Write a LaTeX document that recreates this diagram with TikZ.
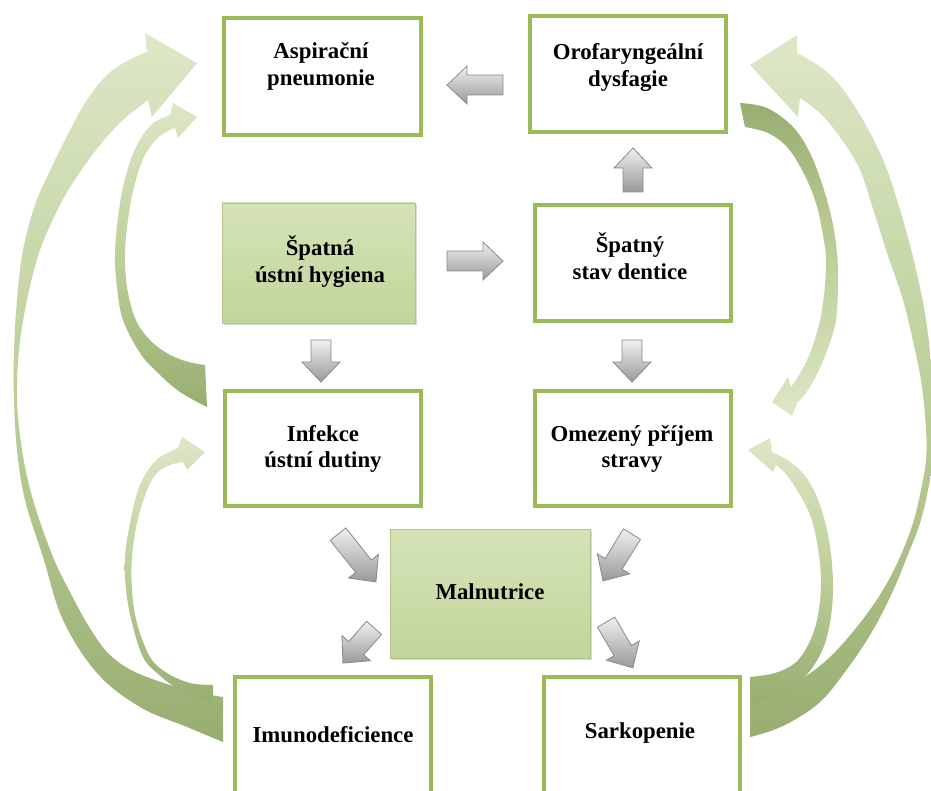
\documentclass[tikz,border=0pt]{standalone}
\usepackage{fontspec}
\setmainfont{Liberation Serif}
\usetikzlibrary{shadows}
\definecolor{boxgreen}{HTML}{9BBB59}
\definecolor{fillTop}{HTML}{D5E3B8}
\definecolor{fillBot}{HTML}{C2D59A}
\definecolor{gLight}{HTML}{DCE7C7}
\definecolor{gMid}{HTML}{BDD09A}
\definecolor{gDark}{HTML}{98AE71}
\definecolor{arrEdge}{HTML}{8A8A8A}
\newcommand\GrArr[4]{%
  \begin{scope}[shift={(#1,#2)},rotate=#3]
    \path[grayarr] (-#4/2,-10) -- (#4/2-20,-10) -- (#4/2-20,-19) -- (#4/2,0)
      -- (#4/2-20,19) -- (#4/2-20,10) -- (-#4/2,10) -- cycle;
  \end{scope}}
\begin{document}
\begin{tikzpicture}[x=1pt,y=-1pt,
  box/.style={draw=boxgreen, line width=3.5pt, fill=white, rectangle, inner sep=0pt},
  fbox/.style={rectangle, inner sep=0pt, top color=fillTop, bottom color=fillBot,
    draw=fillBot!92!black, line width=0.4pt,
    drop shadow={shadow xshift=2pt, shadow yshift=-2pt, opacity=0.3}},
  txt/.style={font=\bfseries\fontsize{22.8}{26.5}\selectfont, align=center, inner sep=0pt},
  grayarr/.style={draw=arrEdge, line width=0.8pt, top color=white!94!black,
    bottom color=black!40, line join=miter},
  garr/.style={top color=gLight, bottom color=gDark, middle color=gMid},
  garrinv/.style={top color=gDark, bottom color=gLight, middle color=gMid}
]
\useasboundingbox (0,0) rectangle (931,791);
\clip (0,0) rectangle (931,791);

% ---------- green curved arrows, left ----------
% A: Imunodeficience -> Aspiracni pneumonie (outer)
\shade[garr] plot[smooth, tension=0.6] coordinates {(223,697) (200,693) (170,685) (133,671)
  (108,653) (88,625) (70,592) (53,557) (33,500) (22,450) (17,400) (19,350) (27,300)
  (40,250) (60,205) (78,175) (100,145) (123,120) (148,100)}
  -- (152,117) -- (197,63) -- (145,33) -- (147,52)
  -- plot[smooth, tension=0.6] coordinates {(147,52) (125,62) (105,77) (85,103) (65,140)
  (48,175) (35,205) (23,250) (17,300) (14,350) (14,400) (17,450) (25,500) (43,557)
  (63,620) (97,673) (140,707) (187,727) (223,742)} -- cycle;
% B: Infekce -> Aspiracni pneumonie (inner)
\shade[garr] plot[smooth, tension=0.6] coordinates {(205,365) (185,361) (165,352) (148,338)
  (135,318) (127,287) (125,253) (128,220) (134,187) (145,155) (160,136) (175,128)}
  -- (178,138) -- (197,117) -- (173,103) -- (170,115)
  -- plot[smooth, tension=0.6] coordinates {(170,115) (152,124) (137,145) (126,175)
  (119,210) (115,253) (117,287) (123,320) (140,353) (157,372) (180,392) (207,407)} -- cycle;
% C: Imunodeficience -> Infekce
\shade[garr] plot[smooth, tension=0.6] coordinates {(213,685) (190,683) (167,673) (150,657)
  (137,623) (132,590) (132,557) (137,523) (147,490) (157,473) (170,465) (183,462)}
  -- (187,470) -- (205,452) -- (182,437) -- (178,448)
  -- plot[smooth, tension=0.6] coordinates {(178,448) (160,457) (148,470) (138,490)
  (130,523) (125,557) (126,590) (132,623) (143,657) (157,673) (180,690) (213,702)} -- cycle;

% ---------- green curved arrows, right ----------
% D: Sarkopenie -> Orofaryngealni dysfagie (outer)
\shade[garr] plot[smooth, tension=0.6] coordinates {(750,737) (783,726) (820,702) (850,665)
  (873,630) (892,593) (907,557) (920,523) (928,490) (933,455) (933,390) (926,320)
  (912,253) (893,187) (880,153) (863,120) (842,88) (822,68) (797,53)}
  -- (797,35) -- (750,65) -- (798,117) -- (800,98)
  -- plot[smooth, tension=0.6] coordinates {(800,98) (822,115) (842,140) (860,170)
  (875,215) (887,253) (903,300) (915,350) (922,387) (926,430) (926,460) (921,490)
  (913,523) (900,557) (883,590) (860,623) (830,657) (800,680) (770,695) (750,700)} -- cycle;
% F: Sarkopenie -> Omezeny prijem stravy
\shade[garr] plot[smooth, tension=0.6] coordinates {(750,677) (775,673) (795,663) (808,645)
  (817,620) (821,585) (818,548) (810,515) (797,490) (785,473) (776,465)}
  -- (773,472) -- (748,450) -- (770,438) -- (772,452)
  -- plot[smooth, tension=0.6] coordinates {(772,452) (792,463) (808,480) (820,505)
  (829,540) (833,583) (830,623) (820,655) (800,682) (775,697) (750,702)} -- cycle;
% E: Orofaryngealni dysfagie -> Omezeny prijem stravy (inner)
\shade[garrinv] plot[smooth, tension=0.6] coordinates {(740,103) (767,108) (793,127)
  (810,153) (823,187) (832,220) (837,253) (838,287) (836,320) (830,342) (820,368)
  (808,390) (797,403)}
  -- (792,416) -- (772,402) -- (788,377) -- (791,387)
  -- plot[smooth, tension=0.6] coordinates {(791,387) (802,370) (813,345) (822,310)
  (826,265) (823,235) (815,200) (802,170) (787,147) (768,133) (745,127)} -- cycle;

% ---------- boxes ----------
\node[box, minimum width=197pt, minimum height=117pt] (asp) at (322.5,76.5) {};
\node[box, minimum width=196pt, minimum height=116pt] (oro) at (628,74) {};
\node[fbox, minimum width=193pt, minimum height=120pt] (hyg) at (318.5,263) {};
\node[box, minimum width=196pt, minimum height=116pt] (den) at (633,263) {};
\node[box, minimum width=196pt, minimum height=115pt] (inf) at (323,448.5) {};
\node[box, minimum width=196pt, minimum height=115pt] (omz) at (633,448.5) {};
\node[fbox, minimum width=200pt, minimum height=129pt] (mal) at (490,593.5) {};
\node[box, minimum width=196pt, minimum height=141pt] (imu) at (333,747.5) {};
\node[box, minimum width=196pt, minimum height=141pt] (sar) at (642,747.5) {};

% ---------- texts ----------
\node[txt] (asptxt) at (321,66.5) {Aspirační\\pneumonie};
\node[txt] (orotxt) at (628,67.5) {Orofaryngeální\\dysfagie};
\node[txt] (hygtxt) at (320,261.5) {Špatná\\ústní hygiena};
\node[txt] (dentxt) at (630,256) {Špatný\\stav dentice};
\node[txt] (inftxt) at (323,449) {Infekce\\ústní dutiny};
\node[txt] (omztxt) at (632,449) {Omezený příjem\\stravy};
\node[txt] (maltxt) at (490,592) {Malnutrice};
\node[txt] (imutxt) at (333,735) {Imunodeficience};
\node[txt] (sartxt) at (640,733) {Sarkopenie};

% ---------- gray block arrows ----------
\GrArr{475}{85}{180}{56}
\GrArr{475}{261}{0}{56}
\GrArr{633}{170}{90}{44}
\GrArr{321}{361}{-90}{42}
\GrArr{632}{361}{-90}{42}
\GrArr{357}{558}{-51.6}{61}
\GrArr{358.5}{645.5}{-131.5}{47}
\GrArr{617.5}{557.5}{-121.7}{55}
\GrArr{619.5}{645}{-59.6}{53}
\end{tikzpicture}
\end{document}
